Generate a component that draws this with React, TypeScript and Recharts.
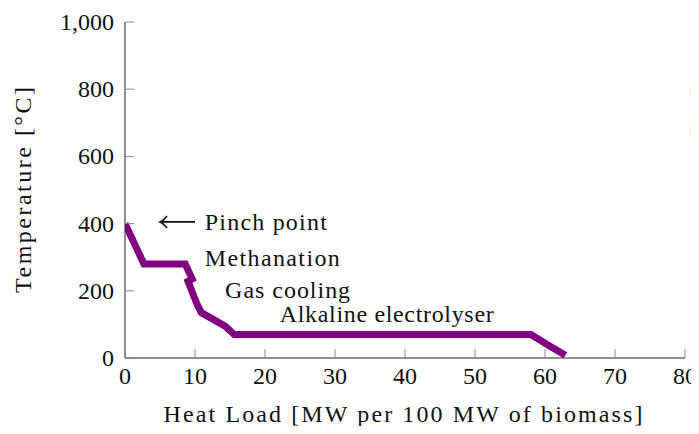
import React from 'react';
import { LineChart, Line, XAxis, YAxis, ReferenceDot } from 'recharts';

const heatLoad = [0, 2.7, 8.6, 9.6, 9.0, 10.3, 10.9, 14.3, 15.6, 58.0, 60.3, 62.9];
const temperature = [400, 280, 280, 235, 228, 160, 135, 95, 70, 70, 40, 8];
const xTicks = [0, 10, 20, 30, 40, 50, 60, 70, 80];
const yTicks = [0, 200, 400, 600, 800, 1000];
const annotationTexts = ['Pinch point', 'Methanation', 'Gas cooling', 'Alkaline electrolyser'];
const annotationX = [11.4, 11.4, 14.3, 22.1];
const annotationY = [405, 298, 202, 131];
const annotationLen = [122, 135, 125, 214];
const arrowX = 5;
const arrowY = 405;

const data = heatLoad.map((x, i) => ({ x, t: temperature[i] }));

const FONT = '"Liberation Serif", serif';
const FS = 24;
const TICK_LEN = 9;
const TICK_COLOR = '#8a8a8a';
const textStyle = { fontFamily: FONT, fontSize: FS };

const fmt = (v: number) => v.toLocaleString('en-US');

const YTick = (props: any) => {
  const { x, y, payload } = props;
  const axisX = x + 11;
  return (
    <g>
      <line x1={axisX} x2={axisX + TICK_LEN} y1={y} y2={y} stroke={TICK_COLOR} strokeWidth={1} />
      <text x={x} y={y} dy={8} textAnchor="end" style={textStyle} fill="#111">
        {fmt(payload.value)}
      </text>
    </g>
  );
};

const XTick = (props: any) => {
  const { x, y, payload } = props;
  const axisY = y - 4;
  return (
    <g>
      <line x1={x} x2={x} y1={axisY} y2={axisY - TICK_LEN} stroke={TICK_COLOR} strokeWidth={1} />
      <text x={x} y={axisY + 26} textAnchor="middle" style={textStyle} fill="#111">
        {fmt(payload.value)}
      </text>
    </g>
  );
};

export default function App() {
  return (
    <div style={{ width: 691, height: 418, overflow: 'hidden', fontFamily: FONT }}>
      <LineChart
        width={691}
        height={418}
        data={data}
        margin={{ top: 14, right: 14, bottom: 8, left: 0 }}
      >
        <XAxis
          dataKey="x"
          type="number"
          domain={[0, 80]}
          ticks={xTicks}
          interval={0}
          allowDataOverflow
          height={60}
          tickSize={0}
          tickMargin={4}
          tickLine={false}
          axisLine={{ stroke: '#222', strokeWidth: 1 }}
          tick={<XTick />}
          label={{
            content: (p: any) => {
              const vb = p.viewBox;
              return (
                <text
                  x={vb.x + vb.width / 2 - 2}
                  y={vb.y + 64}
                  textAnchor="middle"
                  style={textStyle}
                  fill="#111"
                  textLength={479}
                  lengthAdjust="spacing"
                >
                  Heat Load [MW per 100 MW of biomass]
                </text>
              );
            },
          }}
        />
        <YAxis
          type="number"
          domain={[0, 1000]}
          ticks={yTicks}
          interval={0}
          width={117}
          tickSize={0}
          tickMargin={11}
          tickLine={false}
          axisLine={{ stroke: '#222', strokeWidth: 1 }}
          tick={<YTick />}
          label={{
            content: (p: any) => {
              const vb = p.viewBox;
              const cx = vb.x + 23;
              const cy = vb.y + vb.height / 2;
              return (
                <text
                  x={cx}
                  y={cy}
                  transform={`rotate(-90 ${cx} ${cy})`}
                  textAnchor="middle"
                  style={textStyle}
                  fill="#111"
                  textLength={206}
                  lengthAdjust="spacing"
                >
                  Temperature [°C]
                </text>
              );
            },
          }}
        />
        <Line
          type="linear"
          dataKey="t"
          stroke="#800080"
          strokeWidth={7}
          dot={false}
          activeDot={false}
          strokeLinejoin="miter"
          isAnimationActive={false}
        />
        <ReferenceDot
          x={arrowX}
          y={arrowY}
          r={0}
          fill="none"
          stroke="none"
          label={(p: any) => {
            const vb = p.viewBox;
            const x0 = vb.x;
            const y0 = vb.y;
            return (
              <path
                d={`M ${x0} ${y0} L ${x0 + 35} ${y0} M ${x0 + 7} ${y0 - 6} Q ${x0 + 3} ${y0 - 1} ${x0} ${y0} Q ${x0 + 3} ${y0 + 1} ${x0 + 7} ${y0 + 6}`}
                stroke="#111"
                strokeWidth={1.6}
                fill="none"
              />
            );
          }}
        />
        {annotationTexts.map((txt, i) => (
          <ReferenceDot
            key={txt}
            x={annotationX[i]}
            y={annotationY[i]}
            r={0}
            fill="none"
            stroke="none"
            label={(p: any) => {
              const vb = p.viewBox;
              return (
                <text
                  x={vb.x}
                  y={vb.y + 8}
                  textAnchor="start"
                  style={textStyle}
                  fill="#111"
                  textLength={annotationLen[i]}
                  lengthAdjust="spacing"
                >
                  {txt}
                </text>
              );
            }}
          />
        ))}
        <ReferenceDot
          x={80}
          y={500}
          r={0}
          fill="none"
          stroke="none"
          label={(p: any) => {
            const vb = p.viewBox;
            const cx = vb.x + 22;
            const cy = vb.y + 1;
            return (
              <text
                x={cx}
                y={cy}
                transform={`rotate(-90 ${cx} ${cy})`}
                textAnchor="middle"
                style={textStyle}
                fill="#111"
                textLength={206}
                lengthAdjust="spacing"
              >
                Temperature [°C]
              </text>
            );
          }}
        />
      </LineChart>
    </div>
  );
}
